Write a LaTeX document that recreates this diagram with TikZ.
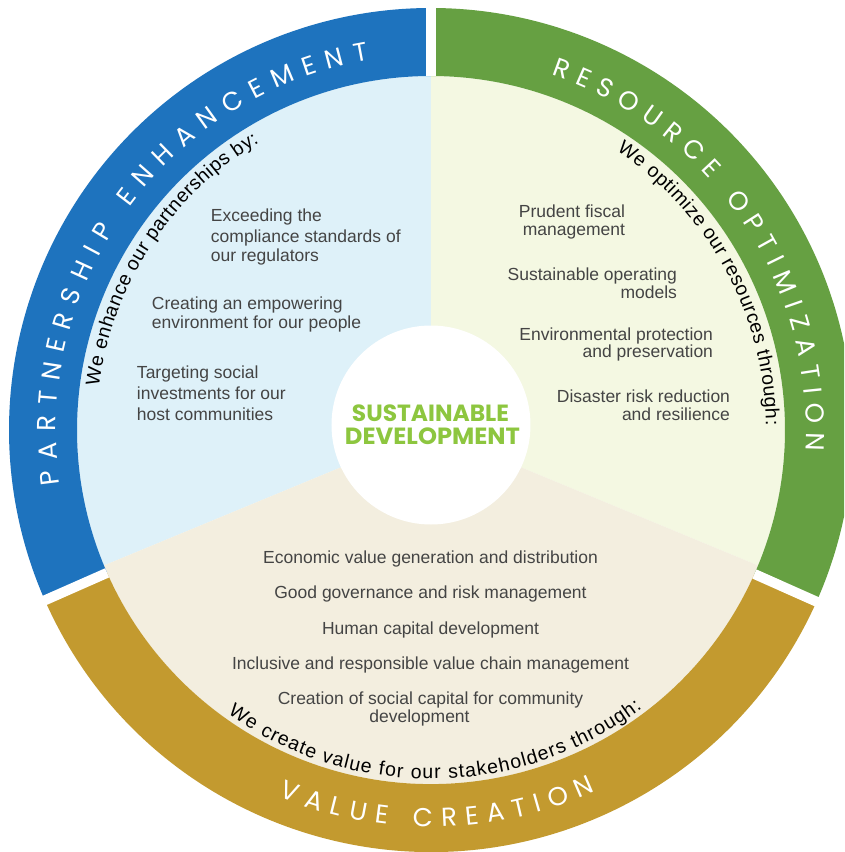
\documentclass[tikz,border=0pt]{standalone}
\usepackage{fontspec}
\usepackage{graphicx}
\setmainfont{Liberation Sans}
\newfontfamily\ringfamily{Poppins}
\definecolor{ringblue}{HTML}{1E73BE}
\definecolor{ringgreen}{HTML}{66A042}
\definecolor{ringgold}{HTML}{C39A2F}
\definecolor{lightblue}{HTML}{DEF1F9}
\definecolor{lightgreen}{HTML}{F4F8E2}
\definecolor{lightbeige}{HTML}{F3EEDF}
\definecolor{itemgray}{HTML}{444444}
\definecolor{coregreen}{HTML}{8DC63F}
\newcommand\itemfont{\fontsize{17.5}{20}\selectfont}
\newcommand\curvefont{\fontsize{19.5}{22}\selectfont}
\newcommand\ringfont{\ringfamily\fontsize{26}{30}\selectfont}
\newcommand\centerfont{\ringfamily\bfseries\fontsize{24}{28}\selectfont}
\newcommand\gsp{\hspace*{0.28em}}
\ExplSyntaxOn
\dim_new:N \l_arc_total_dim
\int_new:N \l_arc_n_int
\seq_new:N \l_arc_w_seq
\seq_new:N \l_arc_c_seq
\box_new:N \l_arc_box
\fp_new:N \l_arc_track_fp
\fp_new:N \l_arc_acc_fp
\fp_new:N \l_arc_ang_fp
\tl_new:N \l_arc_out_tl
\tl_new:N \l_arc_wa_tl
\tl_new:N \l_arc_wb_tl
% #1 id, #2 radius, #3 first centre angle, #4 last centre angle, #5 sign, #6 font, #7 text
\cs_new_protected:Npn \arcprep #1 #2 #3 #4 #5 #6 #7
  {
    \seq_clear:N \l_arc_w_seq
    \seq_clear:N \l_arc_c_seq
    \dim_zero:N \l_arc_total_dim
    \str_map_inline:nn {#7}
      {
        \tl_if_blank:nTF {##1}
          {
            \hbox_set:Nn \l_arc_box { #6 \gsp }
            \seq_put_right:Nn \l_arc_c_seq { \gsp }
          }
          {
            \hbox_set:Nn \l_arc_box { #6 ##1 }
            \seq_put_right:Nn \l_arc_c_seq { ##1 }
          }
        \seq_put_right:Nx \l_arc_w_seq { \dim_to_decimal:n { \box_wd:N \l_arc_box } }
        \dim_add:Nn \l_arc_total_dim { \box_wd:N \l_arc_box }
      }
    \int_set:Nn \l_arc_n_int { \seq_count:N \l_arc_w_seq }
    \tl_set:Nx \l_arc_wa_tl { \seq_item:Nn \l_arc_w_seq { 1 } }
    \tl_set:Nx \l_arc_wb_tl { \seq_item:Nn \l_arc_w_seq { -1 } }
    \fp_set:Nn \l_arc_track_fp
      {
        ( (#5) * ( (#3) - (#4) ) * pi / 180 * (#2)
          - ( \dim_to_decimal:n { \l_arc_total_dim } - 0.5 * \l_arc_wa_tl - 0.5 * \l_arc_wb_tl ) )
        / ( \l_arc_n_int - 1 )
      }
    \fp_set:Nn \l_arc_acc_fp { -0.5 * \l_arc_wa_tl }
    \tl_clear:N \l_arc_out_tl
    \int_step_inline:nn { \l_arc_n_int }
      {
        \tl_set:Nx \l_arc_wb_tl { \seq_item:Nn \l_arc_w_seq { ##1 } }
        \fp_set:Nn \l_arc_ang_fp
          { (#3) - (#5) * ( \l_arc_acc_fp + 0.5 * \l_arc_wb_tl ) / (#2) * 180 / pi }
        \int_compare:nNnF { ##1 } = { 1 } { \tl_put_right:Nn \l_arc_out_tl { , } }
        \tl_put_right:Nx \l_arc_out_tl
          { \fp_eval:n { round ( \l_arc_ang_fp , 4 ) } / \seq_item:Nn \l_arc_c_seq { ##1 } }
        \fp_add:Nn \l_arc_acc_fp { \l_arc_wb_tl + \l_arc_track_fp }
      }
    \tl_gset_eq:cN { arclist#1 } \l_arc_out_tl
  }
\ExplSyntaxOff
% #1 id, #2 baseline radius, #3 rotation offset (-90 or +90), #4 font, #5 node options
\newcommand\arcdraw[5]{%
  \expandafter\let\expandafter\curlist\csname arclist#1\endcsname
  \foreach \ang/\ch [count=\ci] in \curlist {%
    \node[anchor=base, inner sep=0pt, outer sep=0pt, rotate=\ang#3, #5] (#1\ci) at (\ang:#2pt) {#4\ch};
  }%
}
\tikzset{
  item/.style={font=\itemfont, text=itemgray, inner sep=0pt, outer sep=0pt},
  itemL/.style={item, anchor=base west},
  itemR/.style={item, anchor=base east},
  itemC/.style={item, anchor=base},
  gap/.style={white, line width=10pt},
}
\begin{document}
\arcprep{pe}{375}{187.2}{100.6}{1}{\ringfont}{PARTNERSHIP ENHANCEMENT}
\arcprep{ro}{375}{70.1}{-1.8}{1}{\ringfont}{RESOURCE OPTIMIZATION}
\arcprep{vc}{397}{248.7}{293.2}{-1}{\ringfont}{VALUE CREATION}
\arcprep{pa}{335}{170.9}{121.3}{1}{\curvefont}{We enhance our partnerships by:}
\arcprep{rs}{335}{54.8}{1.2}{1}{\curvefont}{We optimize our resources through:}
\arcprep{st}{349}{235.9}{306.8}{-1}{\curvefont}{We create value for our stakeholders through:}
\begin{tikzpicture}
\useasboundingbox (-431pt,-422pt) rectangle (413pt,430pt);
\clip (-431pt,-422pt) rectangle (413pt,430pt);
\fill[white] (-431pt,-422pt) rectangle (413pt,430pt);
% inner sectors
\fill[lightblue] (0,0) -- (90:354pt) arc[start angle=90, end angle=202.5, radius=354pt] -- cycle;
\fill[lightgreen] (0,0) -- (-22.5:354pt) arc[start angle=-22.5, end angle=90, radius=354pt] -- cycle;
\fill[lightbeige] (0,0) -- (202.5:354pt) arc[start angle=202.5, end angle=337.5, radius=354pt] -- cycle;
% ring segments
\fill[ringblue] (90:422pt) arc[start angle=90, end angle=203.8, radius=422pt] -- (203.8:354pt) arc[start angle=203.8, end angle=90, radius=354pt] -- cycle;
\fill[ringgreen] (-24:422pt) arc[start angle=-24, end angle=90, radius=422pt] -- (90:354pt) arc[start angle=90, end angle=-24, radius=354pt] -- cycle;
\fill[ringgold] (203.8:422pt) arc[start angle=203.8, end angle=336, radius=422pt] -- (336:354pt) arc[start angle=336, end angle=203.8, radius=354pt] -- cycle;
% gaps
\fill[white] (-5pt,354pt) rectangle (5pt,432pt);
\draw[gap] (203.8:354pt) -- (203.8:432pt);
\draw[gap] (336:354pt) -- (336:432pt);
% core
\node[circle, fill=white, minimum size=199pt, inner sep=0pt] (core) at (0pt,5pt) {};
\node[text=coregreen, inner sep=0pt, anchor=base] (sus) at (-0.5pt,8.3pt) {\resizebox{157pt}{16.7pt}{\centerfont SUSTAINABLE}};
\node[text=coregreen, inner sep=0pt, anchor=base] (dev) at (1.5pt,-14pt) {\resizebox{175pt}{16.7pt}{\centerfont DEVELOPMENT}};
% ring labels
\arcdraw{pe}{375}{-90}{\ringfont}{text=white}
\arcdraw{ro}{375}{-90}{\ringfont}{text=white}
\arcdraw{vc}{397}{+90}{\ringfont}{text=white}
% curved intro texts
\arcdraw{pa}{335}{-90}{\curvefont}{text=black}
\arcdraw{rs}{335}{-90}{\curvefont}{text=black}
\arcdraw{st}{349}{+90}{\curvefont}{text=black}
% partnership items
\node[itemL] (b1a) at (-220pt,208pt) {Exceeding the};
\node[itemL] (b1b) at (-220pt,188pt) {compliance standards of};
\node[itemL] (b1c) at (-220pt,168pt) {our regulators};
\node[itemL] (b2a) at (-279pt,121pt) {Creating an empowering};
\node[itemL] (b2b) at (-279pt,101.5pt) {environment for our people};
\node[itemL] (b3a) at (-294pt,52pt) {Targeting social};
\node[itemL] (b3b) at (-294pt,31pt) {investments for our};
\node[itemL] (b3c) at (-294pt,10pt) {host communities};
% resource items
\node[itemR] (g1a) at (194pt,212pt) {Prudent fiscal};
\node[itemR] (g1b) at (194pt,194pt) {management};
\node[itemR] (g2a) at (246pt,149.5pt) {Sustainable operating};
\node[itemR] (g2b) at (246pt,132pt) {models};
\node[itemR] (g3a) at (282pt,89.5pt) {Environmental protection};
\node[itemR] (g3b) at (282pt,73pt) {and preservation};
\node[itemR] (g4a) at (299pt,27.5pt) {Disaster risk reduction};
\node[itemR] (g4b) at (299pt,10pt) {and resilience};
% value items
\node[itemC] (v1) at (-0.5pt,-133pt) {Economic value generation and distribution};
\node[itemC] (v2) at (-0.5pt,-168pt) {Good governance and risk management};
\node[itemC] (v3) at (-0.5pt,-204pt) {Human capital development};
\node[itemC] (v4) at (-0.5pt,-239pt) {Inclusive and responsible value chain management};
\node[itemC] (v5a) at (-0.5pt,-274pt) {Creation of social capital for community};
\node[itemC] (v5b) at (-11.5pt,-292pt) {development};
\end{tikzpicture}
\end{document}
